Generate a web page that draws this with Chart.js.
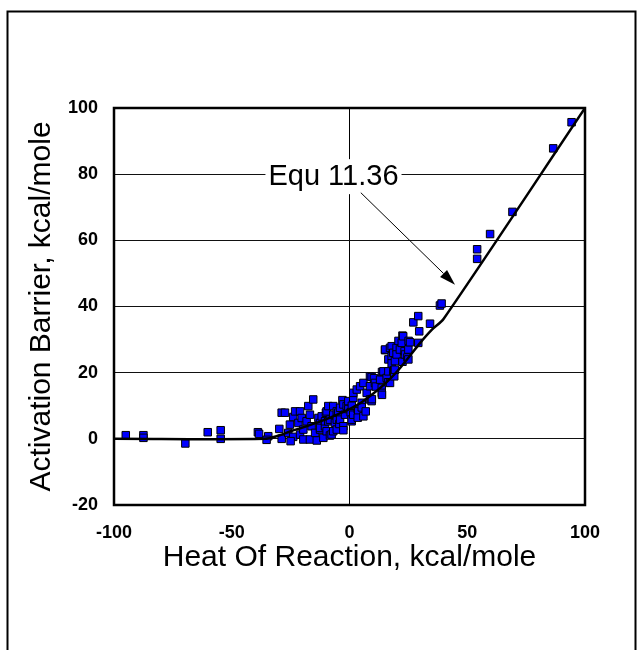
<!DOCTYPE html>
<html>
<head>
<meta charset="utf-8">
<script src="https://cdn.jsdelivr.net/npm/chart.js@4.4.1/dist/chart.umd.min.js"></script>
<style>
  body { margin: 0; background: #fff; }
  canvas { display: block; }
</style>
</head>
<body>
<canvas id="barrier-chart" width="641" height="650"></canvas>
<script>
// measured points, heat of reaction vs activation barrier (kcal/mole)
var heatOfReaction = [
  -95, -87.5, -87.5, -69.7, -60.2, -54.7, -54.7, -38.9, -38.4, -34.5, -35.2,
  -29.8, -28.8, -27.4, -28.8, -26, -25.3, -23.9, -25, -23.9, -23.1, -21, -21.7, -21,
  -20.3, -19.6, -19.6, -18.2, -17.5, -16.8, -16.1, -16.8, -15.4, -14.6, -13.9, -13.2,
  -12.5, -12.5, -11.8, -12.5, -11.1, -10.4, -10.4, -10, -9.7, -9.7, -9, -9, -8.3, -8.3,
  -7.6, -6.9, -6.9, -6.9, -6.2, -5.4, -5.4, -5.4, -4.8, -4.3, -4, -4, -3, -2.6, -2.6,
  -2.6, -1.9, -1.2, -0.5, -0.5, 0.5, 0.9, 0.9, 1, 1.6, 1.6, 1.6, 3.1, 3.5, 3.7, 3.5,
  4.5, 5.2, 5.2, 5.9, 5.9, 6.9, 7.3, 8.7, 8.7, 8.7, 9.4, 9.4, 9.5, 10.4, 10.8, 11.2,
  13, 13.7, 13.7, 13.8, 13.8, 14.4, 15.1, 15.1, 15.8, 16.4, 16.5, 16.5, 17.2, 17.2,
  17.9, 17.9, 17.9, 18.6, 18.6, 19, 19, 19.3, 19.3, 20, 20, 20.8, 21.4, 22.2, 22.5,
  22.5, 22.8, 23.4, 23.6, 24.6, 25, 25, 25.1, 25.7, 27.1, 29.2, 29.2, 29.6, 34.2,
  38.4, 39.1, 54.2, 54.2, 59.7, 69.2, 86.5, 94.3
];
var activationBarrier = [
  1.1, 1.1, 0.3, -1.4, 2.0, 2.6, 0, 2.0, 1.5, 0.8, -0.3,
  3.0, 7.9, 7.9, 0, 1.8, 4.3, 0.6, -0.7, 6.6, 8.3, 8.3, 4.8, 1.3,
  6.3, 2.8, -0.2, 5.3, 9.9, 7.3, 3.8, -0.2, 11.9, 1.8, -0.5, 6.3,
  4.8, 2.8, 6.8, 3.3, 0.3, 3.8, 5.3, 7.9, 8.3, 2.3, 9.9, 5.3, 1.0, 5.8,
  1.3, 9.9, 7.3, 2.3, 4.8, 5.8, 8.3, 2.8, 7.9, 4.5, 9.4, 5.8, 11.7, 10.4, 3.8,
  2.6, 7.3, 9.9, 11.4, 9.0, 8.0, 5.3, 5.8, 10.0, 7.3, 12.4, 13.9, 14.9, 8.9, 8.3, 6.4,
  15.9, 10.9, 9.5, 16.9, 6.8, 8.3, 13.9, 15.9, 11.9, 18.9, 18.7, 11.4, 12.0, 18.3, 16.9, 15.8,
  17.9, 15.4, 13.9, 13.3, 20.2, 20.4, 26.8, 27.0, 18.4, 17.1, 20.4, 24.0, 27.5, 16.9,
  25.0, 22.8, 28.0, 20.4, 26.0, 20.8, 18.9, 20.9, 23.5, 27.5, 25.5, 29.6, 27.0, 29.0, 31.2,
  23.3, 31.0, 26.5, 25.5, 24.6, 27.0, 24.0, 29.6, 29.2, 35.2, 37.1, 29.0, 32.5, 34.8,
  40.3, 40.9, 57.3, 54.4, 61.9, 68.6, 87.8, 95.7
];

// Equ 11.36 curve
var curveX = [-100, -36, -30, -25, -20, -15, -10, -5, 0, 5, 10, 15, 20, 25, 30, 35, 40, 100];
var curveY = [0, 0, 1, 2.3, 3.4, 4.6, 5.9, 7.4, 9, 11, 13.6, 16.6, 20.2, 24.5, 29, 33, 36.3, 100];

var xTicks = [-100, -50, 0, 50, 100];
var yTicks = [-20, 0, 20, 40, 60, 80, 100];

var annotation = { text: "Equ 11.36", at: [-6.8, 79.4], from: [4.8, 74.4], to: [44.8, 46.6] };

var points = heatOfReaction.map(function(x, i) {
  return { x: x, y: activationBarrier[i] };
});
var curve = curveX.map(function(x, i) {
  return { x: x, y: curveY[i] };
});

var fontName = "'Liberation Sans', Arial, sans-serif";

var framePlugin = {
  id: "frame",
  beforeDraw: function(chart) {
    var ctx = chart.ctx;
    ctx.save();
    ctx.fillStyle = "#fff";
    ctx.fillRect(0, 0, chart.width, chart.height);
    ctx.strokeStyle = "#000";
    ctx.lineWidth = 2;
    ctx.beginPath();
    ctx.moveTo(7.5, 650);
    ctx.lineTo(7.5, 11.5);
    ctx.lineTo(635.5, 11.5);
    ctx.lineTo(635.5, 650);
    ctx.stroke();
    ctx.restore();
  },
  afterDraw: function(chart) {
    var ctx = chart.ctx;
    var a = chart.chartArea;
    var xs = chart.scales.x, ys = chart.scales.y;
    ctx.save();
    ctx.strokeStyle = "#000";
    ctx.lineWidth = 2.5;
    ctx.strokeRect(a.left, a.top, a.right - a.left, a.bottom - a.top);

    // annotation label with white box
    ctx.font = "29px " + fontName;
    var tx = xs.getPixelForValue(annotation.at[0]);
    var ty = ys.getPixelForValue(annotation.at[1]);
    var w = ctx.measureText(annotation.text).width;
    ctx.fillStyle = "#fff";
    ctx.fillRect(tx - w / 2 - 3, ty - 17, w + 6, 35);
    ctx.fillStyle = "#000";
    ctx.textAlign = "center";
    ctx.textBaseline = "middle";
    ctx.fillText(annotation.text, tx, ty + 1);

    // arrow
    var x1 = xs.getPixelForValue(annotation.from[0]);
    var y1 = ys.getPixelForValue(annotation.from[1]);
    var x2 = xs.getPixelForValue(annotation.to[0]);
    var y2 = ys.getPixelForValue(annotation.to[1]);
    var ang = Math.atan2(y2 - y1, x2 - x1);
    var len = 16, half = 5;
    ctx.lineWidth = 1;
    ctx.beginPath();
    ctx.moveTo(x1, y1);
    ctx.lineTo(x2 - Math.cos(ang) * len, y2 - Math.sin(ang) * len);
    ctx.stroke();
    ctx.beginPath();
    ctx.moveTo(x2, y2);
    ctx.lineTo(x2 - Math.cos(ang) * len - Math.sin(ang) * half, y2 - Math.sin(ang) * len + Math.cos(ang) * half);
    ctx.lineTo(x2 - Math.cos(ang) * len + Math.sin(ang) * half, y2 - Math.sin(ang) * len - Math.cos(ang) * half);
    ctx.closePath();
    ctx.fill();
    ctx.restore();
  }
};

var config = {
  type: "scatter",
  data: {
    datasets: [
      {
        label: "Equ 11.36",
        data: curve,
        showLine: true,
        borderColor: "#000",
        borderWidth: 2.5,
        pointRadius: 0,
        tension: 0.3,
        order: 0
      },
      {
        label: "Data",
        data: points,
        pointStyle: "rect",
        pointRadius: 5.3,
        backgroundColor: "#0000ff",
        borderColor: "#000",
        borderWidth: 1,
        order: 1
      }
    ]
  },
  options: {
    responsive: false,
    animation: false,
    layout: { padding: { left: 0, top: 108, right: 56, bottom: 65 } },
    plugins: {
      legend: { display: false },
      tooltip: { enabled: false }
    },
    scales: {
      x: {
        type: "linear",
        min: -100,
        max: 100,
        afterBuildTicks: function(scale) {
          scale.ticks = xTicks.map(function(v) { return { value: v }; });
        },
        afterFit: function(scale) { scale.height = 80; },
        border: { display: false },
        grid: {
          drawTicks: false,
          lineWidth: 1,
          color: function(c) { return c.tick && c.tick.value === 0 ? "#000" : "rgba(0,0,0,0)"; }
        },
        ticks: {
          padding: 17,
          color: "#000",
          font: { family: fontName, size: 18, weight: "bold" }
        },
        title: {
          display: true,
          text: "Heat Of Reaction, kcal/mole",
          color: "#000",
          padding: { top: 0, bottom: 9 },
          font: { family: fontName, size: 30 }
        }
      },
      y: {
        type: "linear",
        min: -20,
        max: 100,
        afterBuildTicks: function(scale) {
          scale.ticks = yTicks.map(function(v) { return { value: v }; });
        },
        afterFit: function(scale) { scale.width = 114; },
        border: { display: false },
        grid: { drawTicks: false, lineWidth: 1, color: "#111" },
        ticks: {
          padding: 16,
          color: "#000",
          font: { family: fontName, size: 18, weight: "bold" }
        },
        title: {
          display: true,
          text: "Activation Barrier, kcal/mole",
          color: "#000",
          padding: { top: 24, bottom: 0 },
          font: { family: fontName, size: 30 }
        }
      }
    }
  },
  plugins: [framePlugin]
};

var ctx = document.getElementById("barrier-chart").getContext("2d");
window.barrierChart = new Chart(ctx, config);
</script>
</body>
</html>
